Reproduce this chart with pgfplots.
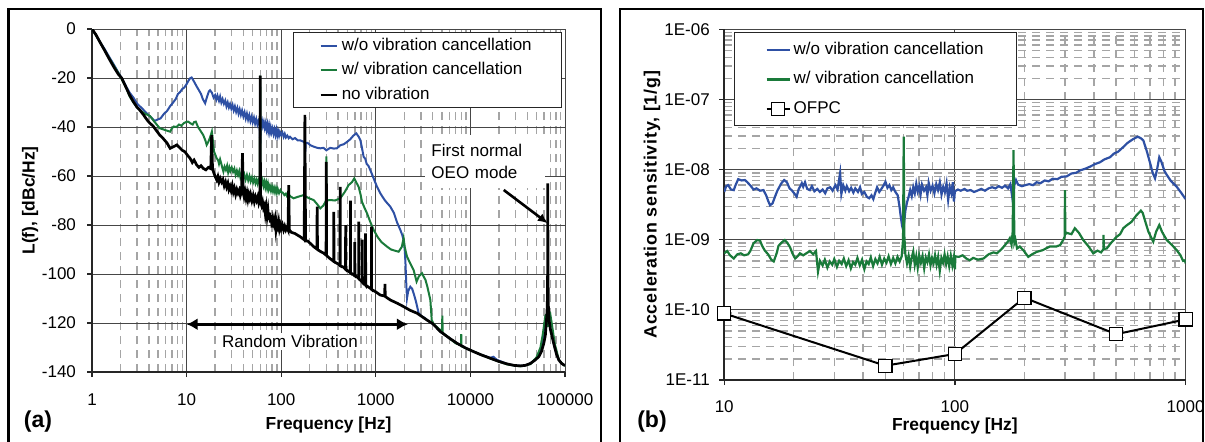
\documentclass[border=0pt]{standalone}
\usepackage{pgfplots}
\pgfplotsset{compat=1.18}
\usepackage{fontspec}
\setmainfont{Liberation Sans}
\usetikzlibrary{arrows.meta}
\definecolor{cblue}{RGB}{46,80,164}
\definecolor{cgreen}{RGB}{26,122,58}
\definecolor{gmaj}{RGB}{70,70,70}
\definecolor{gmin}{RGB}{165,165,165}
\pgfplotsset{
  common/.style={scale only axis, axis x line*=bottom, axis y line*=left,
    tick align=outside, major tick length=2.5pt, minor tick length=0pt,
    axis line style={black!85, line width=0.8pt},
    every tick/.style={black!85, line width=0.6pt},
    major grid style={gmaj, line width=0.5pt},
    minor grid style={gmin, line width=0.7pt, dash pattern=on 4pt off 3pt},
    tick label style={font=\fontsize{8.5}{10.2}\selectfont},
    /pgf/number format/assume math mode=true,
    legend cell align=left,
    legend image code/.code={\draw[mark repeat=2,mark phase=2,##1] plot coordinates {(0pt,0pt) (4pt,0pt) (8pt,0pt)};}},
}
\begin{document}
\begin{tikzpicture}[font=\fontsize{8.5}{10.2}\selectfont]
\useasboundingbox (0,0) rectangle (602.5pt,220.5pt);
\draw[line width=1.2pt] (4.2pt,-5pt) -- (4.2pt,216pt) -- (300.5pt,216pt) -- (300.5pt,-5pt);
\draw[line width=1.2pt] (310pt,-5pt) -- (310pt,216pt) -- (601.5pt,216pt) -- (601.5pt,-5pt);
\node[font=\fontsize{11.5}{13}\selectfont\bfseries] at (19pt,9.65pt) {(a)};
\node[font=\fontsize{11.5}{13}\selectfont\bfseries] at (326pt,9.65pt) {(b)};

% ---------------- left panel ----------------
\begin{axis}[common,
  at={(46pt,34.5pt)}, anchor=south west, width=236.5pt, height=171.5pt,
  xmode=log, xmin=1, xmax=100000, ymin=-140, ymax=0,
  xtick={1,10,100,1000,10000,100000}, xticklabels={1,10,100,1000,10000,100000},
  minor xtick={2,3,4,5,6,7,8,9,20,30,40,50,60,70,80,90,200,300,400,500,600,700,800,900,2000,3000,4000,5000,6000,7000,8000,9000,20000,30000,40000,50000,60000,70000,80000,90000},
  ytick={-140,-120,-100,-80,-60,-40,-20,0}, yticklabels={-140,-120,-100,-80,-60,-40,-20,0},
  xmajorgrids, xminorgrids, ymajorgrids,
  xticklabel style={yshift=-5pt}, yticklabel style={xshift=-2pt},
  xlabel={Frequency [Hz]}, ylabel={L(f), [dBc/Hz]},
  every axis x label/.style={at={(axis description cs:0.5,-0.1545)}, anchor=center, font=\fontsize{8.7}{10.4}\selectfont\bfseries},
  every axis y label/.style={at={(axis description cs:-0.131,0.5)}, rotate=90, anchor=center, font=\fontsize{8.7}{10.4}\selectfont\bfseries},
  legend style={at={(axis description cs:0.426,0.990)}, anchor=north west, draw=black!85, line width=0.5pt, fill=white,
    inner xsep=12.65pt, inner ysep=2.1pt, row sep=3.85pt, column sep=1.9pt,
    nodes={inner sep=0pt, text height=6.5pt, text depth=2pt}},
]
\node[fill=white, align=left, text width=54pt, inner xsep=3pt, inner ysep=4.5pt, font=\fontsize{8.5}{11.15}\selectfont] at (axis cs:14420,-54.1) {First normal\\OEO mode};
\node[fill=white, inner sep=1pt] at (axis cs:124,-127.6) {Random Vibration};

\addplot[cblue, line width=1pt] coordinates {
(1,0) (1.1,-2.5) (1.2,-5) (1.35,-8) (1.5,-11) (1.7,-14.5) (1.9,-17.8) (2.06,-20) (2.3,-23.5) (2.5,-26) (2.74,-28) (3.0,-30.5) (3.3,-32) (3.5,-33) (3.8,-34.5) (4.2,-36) (4.6,-37.5) (4.9,-37) (5.3,-36.5) (5.8,-34.5) (6.2,-33.5) (6.7,-31.5) (7.2,-30) (7.7,-28.5) (8.1,-26.5) (8.5,-25.8) (9.0,-24.5) (9.5,-23.8) (10.0,-22.5) (10.5,-21) (10.9,-20.1) (11.3,-19.8) (11.6,-20.5) (12.2,-22) (12.8,-23.5) (13.5,-25) (14.2,-26.5) (14.8,-28.5) (15.7,-30.3) (16.5,-27.5) (17.2,-25.5) (17.7,-25) (18.5,-26) (19.3,-28) (20,-27) (20.6,-28.8) (21.2,-27.2) (22,-29.3) (22.6,-27.6) (23.3,-30) (24,-28.6) (24.8,-30.5) (25.6,-29.2) (26.4,-31.6) (27.2,-30) (28,-32) (28.8,-30.6) (29.7,-32.5) (30.6,-31) (31.5,-33.2) (32.4,-31.6) (33.4,-33.8) (34.4,-32.2) (35.4,-34.5) (36.4,-32.8) (37.5,-35) (38.6,-33.3) (39.8,-35.6) (41,-34) (42.2,-36.5) (43.4,-34.6) (44.7,-37) (46,-35.2) (47.3,-37.6) (48.7,-35.8) (50,-38) (51.5,-36.2) (53,-38.6) (54.5,-36.8) (56,-39) (57.5,-37.5) (59,-38.6) (60,-47) (61,-38.5) (62.5,-37.2) (64,-39.6) (65.5,-38) (67,-40.3) (68.5,-38.5) (70,-41) (71.5,-39) (73,-41.6) (74.5,-39.5) (76,-42) (77.5,-40.2) (79,-42.2) (81,-40.6) (83,-42.8) (85,-41) (87,-43.2) (89,-41.2) (91,-43.5) (93,-41.8) (95,-43.5) (97,-42) (100,-43.3) (103,-42.3) (106,-44) (109,-42.8) (112,-44.3) (116,-43.5) (120,-44.6) (124,-44) (132,-45) (140,-44.5) (150,-45.5) (160,-45.5) (172,-46) (178,-46.5) (180,-50) (182,-46.5) (190,-46.5) (205,-47.5) (220,-48) (240,-48.5) (259,-48.7) (280,-48.5) (300,-49.5) (330,-48.5) (360,-48.8) (388,-48.7) (420,-47.5) (460,-47) (500,-46) (537,-45) (580,-43.5) (622,-42.6) (660,-44) (686,-45.3) (710,-48) (743,-52.1) (775,-53) (800,-55) (840,-56) (875,-57.6) (950,-61) (1020,-64) (1117,-67.1) (1250,-70) (1423,-72.5) (1550,-75) (1680,-79) (1816,-82) (1900,-84) (1968,-86.1) (2020,-90) (2053,-94.3) (2100,-104) (2138,-109.9) (2200,-107) (2317,-105.2) (2420,-106) (2512,-107.9) (2650,-111) (2838,-116) (3000,-117) (3300,-118) (3478,-118.8) (4000,-120.3) (4818,-123.5) (6000,-126.2) (7230,-128.3) (9000,-130.3) (10840,-131.7) (13000,-133) (16280,-134.2) (17500,-133.8) (19000,-135) (24430,-136.7) (29000,-137.3) (33800,-137.5) (38000,-137.3) (43100,-136.5) (48000,-135) (52800,-133.5) (56500,-130.5) (60000,-124) (63000,-118) (65800,-116) (68000,-119) (70000,-122) (75900,-128.3) (81000,-132.5) (86100,-135.1) (92000,-136.5) (97200,-137.1) (100000,-137.3)};
\addlegendentry{\makebox[97pt][l]{w/o vibration cancellation}}

\addplot[cgreen, line width=1pt] coordinates {
(1,0) (1.1,-2.5) (1.2,-5) (1.35,-8.5) (1.5,-11.5) (1.7,-15) (1.9,-18) (2.06,-20.5) (2.3,-24) (2.5,-27.5) (2.74,-30) (3.0,-32) (3.3,-33.5) (3.6,-34.5) (4.1,-35.5) (4.6,-38) (5.2,-40.5) (5.7,-41) (6.2,-41.5) (6.7,-41.9) (7.0,-40.5) (7.3,-39.8) (7.8,-40) (8.3,-39) (8.8,-39.5) (9.3,-38.5) (9.8,-38) (10.4,-37.8) (11.0,-38.5) (11.6,-39) (12.0,-38) (12.5,-37.8) (13.2,-40) (14,-41.5) (15,-43.3) (15.8,-45.5) (16.3,-47.3) (17,-46) (17.8,-44) (18.5,-41.9) (19.0,-46) (19.5,-50) (20.2,-51.5) (20.8,-52.8) (21.5,-53.5) (22,-55) (22.6,-53.2) (23.2,-54.8) (23.8,-56.5) (24.5,-58.2) (25.2,-56.2) (26,-57.5) (26.8,-55.8) (27.5,-58.5) (28.3,-56.5) (29,-58) (30,-56.5) (31,-58.3) (32,-57) (33,-59.5) (34,-57.8) (35,-59.6) (36,-58) (37,-60.5) (38.2,-58.8) (39.4,-60.6) (40.6,-59.2) (42,-61.5) (43.4,-59.6) (44.8,-61.8) (46.2,-60) (47.6,-62.2) (49,-60.6) (50.5,-62.6) (52,-61) (53.5,-63) (55,-61.5) (56.5,-63.2) (58,-61.5) (59.5,-60) (60,-19) (60.5,-62) (62,-63.4) (63.5,-61.8) (65,-64) (66.5,-62.4) (68,-64.6) (69.5,-62.8) (71,-65) (72.5,-63.2) (74,-65.5) (76,-64) (78,-66) (80,-64.3) (82,-66.3) (84,-64.8) (86,-66.6) (88,-65) (90,-66.8) (92,-65.3) (95,-67) (98,-65.8) (100,-66.5) (104,-66.8) (108,-67.8) (112,-67.2) (115,-68.2) (120,-67.5) (125,-68.3) (135,-69.1) (150,-68.5) (172,-67.8) (195,-69) (220,-69.8) (240,-71.5) (259,-73.2) (280,-72) (298,-70) (300,-52) (302,-70) (330,-69.8) (370,-70) (421,-69.1) (470,-66.5) (516,-63.7) (560,-62.5) (592,-61) (620,-62.5) (658,-64.4) (690,-67.5) (714,-70.5) (760,-73) (807,-75.2) (870,-78.5) (948,-82) (1050,-85) (1150,-87) (1312,-88.8) (1450,-90) (1600,-90.5) (1743,-90.9) (1880,-89) (1968,-85.4) (2020,-89) (2138,-92.9) (2300,-95.5) (2512,-98.4) (2700,-103.1) (2850,-101) (3083,-99.7) (3200,-101) (3350,-102.4) (3500,-105) (3774,-110.6) (3900,-118.8) (4100,-120.5) (5000,-123.5) (5050,-117) (5100,-124) (7000,-128.3) (7950,-129) (8000,-124.5) (8050,-129.5) (10840,-131.7) (16000,-134.4) (24430,-136.9) (33800,-137.7) (43100,-136.8) (50000,-134) (55000,-130) (58000,-125) (60000,-121) (62000,-117) (64000,-116.5) (65000,-118) (66000,-121.5) (68000,-117.5) (70000,-116.5) (73000,-121) (78000,-128.5) (86000,-135) (97000,-137.2) (100000,-137.5)};
\addlegendentry{\makebox[97pt][l]{w/ vibration cancellation}}

\addplot[black, line width=1.35pt] coordinates {
(1,0) (1.1,-2.3) (1.2,-5) (1.35,-8.5) (1.5,-11.8) (1.7,-15.5) (1.9,-18.5) (2.06,-20) (2.3,-24) (2.5,-27) (2.74,-29.7) (3.0,-32) (3.2,-33.1) (3.5,-35) (3.8,-37) (4.1,-38.5) (4.4,-39.5) (4.7,-41) (5.2,-43.3) (5.6,-44.5) (6.2,-46.5) (6.7,-48.7) (7.3,-48) (7.9,-47.3) (8.5,-48.5) (9.0,-49.5) (9.6,-50.1) (10.2,-51.5) (10.9,-52.8) (11.5,-54.5) (12.0,-53.5) (12.8,-55.5) (13.5,-56.5) (14.2,-55.8) (15,-56.9) (16,-57.5) (17,-56.5) (18,-57) (18.4,-43.3) (18.8,-57) (19.5,-59) (20.2,-60.5) (20.8,-61.6) (21.4,-60.2) (22,-62.5) (22.7,-61) (23.5,-62.5) (24.2,-61.5) (25,-64) (25.8,-62.5) (26.5,-64.5) (27.3,-63) (28,-65.5) (28.8,-64.2) (29.6,-66) (30.4,-64) (31.2,-66.5) (32,-65) (33,-67.5) (34,-65.5) (35,-67) (36,-65.8) (37,-68) (38,-66.5) (39,-50.7) (39.6,-67) (40.5,-68.5) (41.5,-66.5) (42.5,-69) (43.5,-67) (44.5,-69.5) (45.5,-67.5) (46.5,-69) (47.5,-67.5) (49,-70) (50.5,-68) (52,-70.5) (53.5,-68.5) (55,-70) (56.5,-68.5) (58,-71) (59.5,-69.5) (60,-19) (60.4,-70.5) (62,-72) (63.5,-70.5) (65,-73) (66.5,-72) (68,-75.5) (69.5,-73) (71,-76.5) (72.5,-74) (74,-78) (75.5,-75) (77,-79) (78.5,-76) (80,-81) (82,-77.5) (84,-79.5) (86,-77.5) (88,-82) (90,-79) (92,-80.5) (94,-78.5) (96,-81.5) (98,-80) (100,-81.5) (103,-80) (106,-82) (109,-80.5) (112,-82) (115,-81) (118,-82) (120,-63.7) (122,-82) (125,-82.5) (128,-83) (140,-83.5) (159,-84.8) (175,-86) (178,-35.1) (181,-86.5) (190,-86.5) (203,-87.5) (220,-88.8) (238,-89.8) (240,-72.5) (242,-90) (260,-90.8) (281,-91.5) (298,-92.3) (300,-54.2) (302,-92.5) (330,-93.8) (358,-94.8) (360,-74.6) (362,-95) (388,-95.6) (418,-96.5) (420,-64.4) (422,-96.7) (456,-97.2) (478,-98) (480,-80) (482,-98.2) (520,-99) (538,-99.5) (540,-70) (542,-99.5) (580,-100.3) (598,-100.7) (600,-87) (602,-100.8) (631,-101.1) (658,-101.8) (660,-78.6) (662,-102) (700,-102.8) (718,-103.3) (720,-86) (722,-103.4) (760,-104) (778,-104.5) (780,-83.4) (782,-104.6) (875,-105.8) (898,-106.2) (900,-80.7) (902,-106.3) (1000,-107.3) (1117,-108.6) (1240,-109) (1250,-104) (1260,-109.2) (1423,-110.6) (1700,-112) (1968,-113.3) (2300,-114.8) (2728,-116) (3478,-118.8) (4000,-120.3) (4818,-123.5) (6000,-126.2) (7230,-128.3) (9000,-130.3) (10840,-131.7) (13000,-133) (16280,-134.4) (20000,-135.7) (24430,-136.7) (29000,-137.3) (33800,-137.5) (38000,-137.3) (43100,-136.5) (48000,-135.2) (52800,-133.8) (56500,-131.5) (59700,-128.3) (62000,-125) (63700,-119) (65000,-113) (65500,-100) (65800,-63) (66100,-100) (66700,-113) (68000,-119) (70000,-122.5) (75900,-128.3) (81000,-132.5) (86100,-135.1) (92000,-136.5) (97200,-137.1) (100000,-137.3)};
\addlegendentry{\makebox[97pt][l]{no vibration}}

\draw[{Latex[length=5.5pt,width=6pt]}-{Latex[length=5.5pt,width=6pt]}, line width=1.5pt] (axis cs:10,-120.5) -- (axis cs:2187,-120.5);
\draw[-{Latex[length=5pt,width=4.5pt]}, line width=1.3pt] (axis cs:22500,-65.7) -- (axis cs:65800,-79.3);
\end{axis}

% ---------------- right panel ----------------
\begin{axis}[common,
  at={(362.1pt,30.5pt)}, anchor=south west, width=230.7pt, height=175.35pt,
  xmode=log, ymode=log, xmin=10, xmax=1000, ymin=1e-11, ymax=1e-6,
  xtick={10,100,1000}, xticklabels={10,100,1000},
  minor xtick={20,30,40,50,60,70,80,90,200,300,400,500,600,700,800,900},
  ytick={1e-11,1e-10,1e-9,1e-8,1e-7,1e-6}, yticklabels={1E-11,1E-10,1E-09,1E-08,1E-07,1E-06},
  minor ytick={2e-11,3e-11,4e-11,5e-11,6e-11,7e-11,8e-11,9e-11,2e-10,3e-10,4e-10,5e-10,6e-10,7e-10,8e-10,9e-10,2e-9,3e-9,4e-9,5e-9,6e-9,7e-9,8e-9,9e-9,2e-8,3e-8,4e-8,5e-8,6e-8,7e-8,8e-8,9e-8,2e-7,3e-7,4e-7,5e-7,6e-7,7e-7,8e-7,9e-7},
  grid=both,
  xticklabel style={yshift=-4.5pt}, yticklabel style={xshift=-1.2pt},
  xlabel={Frequency [Hz]}, ylabel={Acceleration sensitivity, [1/g]},
  every axis x label/.style={at={(axis description cs:0.5,-0.130)}, anchor=center, font=\fontsize{8.7}{10.4}\selectfont\bfseries},
  every axis y label/.style={at={(axis description cs:-0.1565,0.5)}, rotate=90, anchor=center, font=\fontsize{8.9}{10.4}\selectfont\bfseries\addfontfeature{LetterSpace=4.5}},
  legend image code/.code={\draw[mark repeat=2,mark phase=2,#1] plot coordinates {(0pt,0pt) (5.75pt,0pt) (11.5pt,0pt)};},
  legend style={at={(axis description cs:0.021,0.991)}, anchor=north west, draw=black!85, line width=0.5pt, fill=white,
    inner xsep=15.55pt, inner ysep=4.25pt, row sep=6.25pt, column sep=1.5pt,
    nodes={inner sep=0pt, text height=6.5pt, text depth=2pt}},
]
\addplot[cblue, line width=1.1pt] coordinates {
(10,4.8e-9) (10.2,5.8e-9) (10.4,6.0e-9) (10.7,5.2e-9) (11.0,5.1e-9) (11.2,6.0e-9) (11.5,7.3e-9) (11.9,7.0e-9) (12.3,7.1e-9) (12.6,6.6e-9) (13.0,5.9e-9) (13.4,5.2e-9) (13.8,5.4e-9) (14.3,5.0e-9) (14.8,5.1e-9) (15.2,4.3e-9) (15.5,3.6e-9) (15.8,3.1e-9) (16.2,3.3e-9) (16.6,4.1e-9) (17.0,5.0e-9) (17.7,6.4e-9) (18.2,7.1e-9) (18.7,6.6e-9) (19.2,5.4e-9) (19.6,5.1e-9) (20.1,4.6e-9) (20.6,4.1e-9) (21.0,5.2e-9) (21.7,6.4e-9) (22.0,5.7e-9) (22.4,6.6e-9) (22.9,5.3e-9) (23.5,5.1e-9) (24.0,5.8e-9) (24.6,4.9e-9) (25.3,5.3e-9) (26.0,4.8e-9) (26.7,5.2e-9) (27.4,4.6e-9) (28.0,5.4e-9) (28.8,5.6e-9) (29.5,5.0e-9) (30.3,6.0e-9) (31,5.2e-9) (31.8,8.9e-9) (32.2,4.5e-9) (32.8,6.0e-9) (33.5,5.0e-9) (34,5.8e-9) (34.8,4.9e-9) (35.5,5.5e-9) (36.3,4.7e-9) (37,5.4e-9) (38,4.8e-9) (38.8,5.6e-9) (39.5,4.5e-9) (40.5,4.8e-9) (41.5,4.1e-9) (42.5,3.9e-9) (43.5,4.3e-9) (44.3,3.8e-9) (45,4.5e-9) (46,5.6e-9) (47,4.8e-9) (48,5.3e-9) (49,5.9e-9) (50,6.7e-9) (51,5.5e-9) (52,6.0e-9) (53,5.1e-9) (54,5.6e-9) (55,4.9e-9) (56.5,4.3e-9) (57.5,3.0e-9) (58.3,2.1e-9) (59,1.6e-9) (59.6,1.4e-9) (60.3,1.8e-9) (61,2.6e-9) (62,3.4e-9) (63,4.1e-9) (64,5.1e-9) (65,4.2e-9) (66,5.6e-9) (67,4.6e-9) (68,6.3e-9) (69,4.9e-9) (70,5.8e-9) (71,4.4e-9) (72,6.1e-9) (73.5,5.0e-9) (75,5.6e-9) (76,4.3e-9) (77,6.5e-9) (78.5,5.0e-9) (80,5.9e-9) (81.5,4.6e-9) (83,6.2e-9) (84.5,5.1e-9) (86,6.6e-9) (87.5,4.4e-9) (89,5.7e-9) (90.5,4.8e-9) (92,6.4e-9) (93.5,3.7e-9) (95,5.6e-9) (96.5,4.6e-9) (98,6.6e-9) (99,3.5e-9) (100,4.9e-9) (103,5.2e-9) (106,5.0e-9) (110,5.3e-9) (113,5.0e-9) (117,5.1e-9) (121,4.8e-9) (125,5.0e-9) (130,5.3e-9) (135,5.0e-9) (140,5.4e-9) (145,5.6e-9) (150,5.4e-9) (155,5.8e-9) (160,5.5e-9) (165,5.9e-9) (170,5.4e-9) (174,6.2e-9) (177,4.2e-9) (179,3.2e-9) (181,6.0e-9) (184,7.1e-9) (188,6.1e-9) (195,5.8e-9) (202,6.0e-9) (210,6.2e-9) (218,6.0e-9) (226,6.6e-9) (235,6.4e-9) (245,7.0e-9) (255,6.8e-9) (265,7.4e-9) (278,7.3e-9) (290,7.9e-9) (305,8.0e-9) (320,8.8e-9) (335,9.0e-9) (350,9.8e-9) (365,1.02e-8) (385,1.1e-8) (405,1.2e-8) (425,1.27e-8) (445,1.4e-8) (470,1.5e-8) (490,1.7e-8) (510,1.8e-8) (537,2.1e-8) (560,2.4e-8) (590,2.7e-8) (620,2.95e-8) (640,2.8e-8) (656,2.6e-8) (680,1.8e-8) (702,1.23e-8) (720,9e-9) (737,7.5e-9) (752,1.0e-8) (769,1.5e-8) (785,1.3e-8) (810,9.5e-9) (829,8.4e-9) (860,7.0e-9) (915,5.7e-9) (960,4.6e-9) (994,3.9e-9) (1000,3.8e-9)};
\addlegendentry{\makebox[95.75pt][l]{w/o vibration cancellation}}

\addplot[cgreen, line width=1.1pt] coordinates {
(10,6.4e-10) (10.3,6.9e-10) (10.6,6.0e-10) (11.0,5.4e-10) (11.4,6.2e-10) (11.8,6.4e-10) (12.2,6.0e-10) (12.7,6.2e-10) (13.0,7.0e-10) (13.4,8.9e-10) (13.9,9.9e-10) (14.3,9.7e-10) (14.6,8.2e-10) (15.0,7.0e-10) (15.5,6.2e-10) (16.0,5.2e-10) (16.4,4.9e-10) (16.9,6.5e-10) (17.2,8.2e-10) (17.8,9.2e-10) (18.3,9.9e-10) (18.8,9.0e-10) (19.3,7.8e-10) (19.8,6.3e-10) (20.3,5.4e-10) (20.8,5.8e-10) (21.3,6.4e-10) (22,6.0e-10) (22.7,6.4e-10) (23.5,6.9e-10) (24.3,6.2e-10) (25,6.9e-10) (25.5,3.5e-10) (26,5.0e-10) (26.7,4.3e-10) (27.3,5.2e-10) (28,4.0e-10) (28.7,4.9e-10) (29.4,4.4e-10) (30,5.3e-10) (30.8,4.1e-10) (31.5,5.0e-10) (32.3,4.5e-10) (33,5.4e-10) (33.8,4.2e-10) (34.6,5.1e-10) (35.4,3.9e-10) (36.2,4.8e-10) (37,4.4e-10) (37.8,5.5e-10) (38.7,4.3e-10) (39.6,5.2e-10) (40.5,3.8e-10) (41.4,4.9e-10) (42.3,4.5e-10) (43.2,5.6e-10) (44.2,4.2e-10) (45.2,5.3e-10) (46.2,4.6e-10) (47.2,5.7e-10) (48.3,4.4e-10) (49.4,5.4e-10) (50.5,4.7e-10) (51.6,5.8e-10) (52.8,4.5e-10) (54,5.5e-10) (55.2,4.6e-10) (56.4,5.7e-10) (57.6,4.9e-10) (58.8,5.8e-10) (59.6,1e-9) (60.0,2.94e-8) (60.4,1.1e-9) (61,6.2e-10) (62,4.6e-10) (63,5.9e-10) (64,4.1e-10) (65,5.6e-10) (66,6.8e-10) (67,4.4e-10) (68,5.8e-10) (69,4.0e-10) (70,6.0e-10) (71.2,4.7e-10) (72.4,5.9e-10) (73.6,3.9e-10) (74.8,5.6e-10) (76,4.8e-10) (77.2,6.2e-10) (78.4,4.3e-10) (79.6,5.5e-10) (80.8,4.6e-10) (82,6.0e-10) (83.3,4.4e-10) (84.6,5.7e-10) (86,3.6e-10) (87.4,5.5e-10) (88.8,4.7e-10) (90.2,6.2e-10) (91.6,4.5e-10) (93,5.8e-10) (94.5,4.2e-10) (96,5.9e-10) (97.5,4.3e-10) (99,5.7e-10) (100,3.8e-10) (100.5,5.8e-10) (104,5.7e-10) (108,6.0e-10) (112,5.4e-10) (116,5.1e-10) (120,5.5e-10) (126,5.2e-10) (133,5.4e-10) (140,6.2e-10) (147,6.6e-10) (152,6.4e-10) (159,7.3e-10) (165,8.4e-10) (170,9.5e-10) (173,1.05e-9) (176,8.5e-10) (178,1.3e-9) (179.5,1.9e-8) (181,9.0e-10) (183,1.0e-9) (186,7.5e-10) (191,8.0e-10) (198,7.1e-10) (208,5.7e-10) (216,6.2e-10) (226,6.7e-10) (240,7.1e-10) (258,8.0e-10) (275,8.0e-10) (286,8.4e-10) (295,1.0e-9) (299,1.1e-9) (300,5.1e-9) (301,1.2e-9) (306,1.25e-9) (320,1.2e-9) (331,1.46e-9) (345,1.25e-9) (360,9.9e-10) (380,8.0e-10) (398,6.4e-10) (415,7.0e-10) (430,6.6e-10) (440,7.3e-10) (441,1.17e-9) (442,7.4e-10) (455,7.5e-10) (475,9.0e-10) (502,1.1e-9) (520,1.2e-9) (537,1.46e-9) (555,1.6e-9) (583,1.8e-9) (610,2.2e-9) (640,2.6e-9) (652,2.4e-9) (666,1.9e-9) (690,1.3e-9) (724,9.4e-10) (745,1.3e-9) (769,1.62e-9) (790,1.3e-9) (828,9.9e-10) (870,8.5e-10) (915,7.1e-10) (950,6.0e-10) (975,5.0e-10) (994,5.1e-10) (1000,4.6e-10)};
\addlegendentry{\makebox[95.75pt][l]{w/ vibration cancellation}}

\addplot[black, line width=1pt, mark=square*, mark size=3.3pt, mark options={fill=white, draw=black, line width=0.6pt}] coordinates {
(10,8.9e-11) (50,1.6e-11) (100,2.35e-11) (200,1.49e-10) (500,4.5e-11) (1000,7.3e-11)};
\addlegendentry{\makebox[95.75pt][l]{OFPC}}
\end{axis}
\end{tikzpicture}
\end{document}
